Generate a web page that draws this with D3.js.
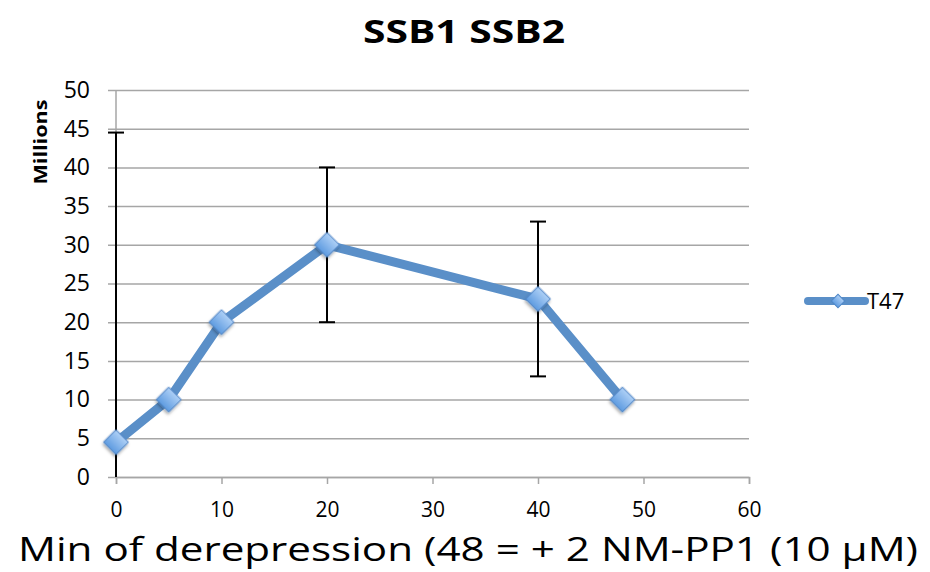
<!DOCTYPE html>
<html>
<head>
  <script src="https://d3js.org/d3.v7.min.js"></script>
  <style>
    body { margin: 0; background: #fff; }
    .gridlines line { stroke: #a6a6a6; stroke-width: 1.5; }
    .gridlines .domain { stroke: none; }
    .axis text { fill: #000; }
  </style>
</head>
<body>
  <svg id="chart" width="930" height="572"></svg>

  <script>
    // data
    const minutes = [0, 5, 10, 20, 40, 48];
    const values = [4.5, 10, 20, 30, 23, 10];
    const errors = [40, 0, 0, 10, 10, 0];
    const seriesName = 'T47';
    const xTicks = [0, 10, 20, 30, 40, 50, 60];
    const yTicks = [0, 5, 10, 15, 20, 25, 30, 35, 40, 45, 50];

    const svg = d3.select('svg#chart');
    const margins = { top: 90, left: 116, right: 930 - 749, bottom: 572 - 477 };
    const chartWidth = 930 - margins.left - margins.right;
    const chartHeight = 572 - margins.top - margins.bottom;

    const xScale = d3.scaleLinear().domain([0, 60]).range([0, chartWidth]);
    const yScale = d3.scaleLinear().domain([0, 50]).range([chartHeight, 0]);

    const defs = svg.append('defs');
    const grad = defs.append('linearGradient')
      .attr('id', 'diamondFill')
      .attr('x1', 0).attr('y1', 0).attr('x2', 0).attr('y2', 1);
    grad.append('stop').attr('offset', '0%').attr('stop-color', '#aed0f6');
    grad.append('stop').attr('offset', '100%').attr('stop-color', '#5e9be0');
    const shadow = defs.append('filter').attr('id', 'shadow')
      .attr('x', '-50%').attr('y', '-50%').attr('width', '200%').attr('height', '200%');
    shadow.append('feDropShadow')
      .attr('dx', 1).attr('dy', 2).attr('stdDeviation', 1.5)
      .attr('flood-color', '#000').attr('flood-opacity', 0.35);

    const chartArea = svg.append('g')
      .attr('transform', `translate(${margins.left},${margins.top})`);

    // horizontal gridlines (extend left as outward ticks)
    const leftGridlines = d3.axisLeft(yScale)
      .tickValues(yTicks)
      .tickSize(-chartWidth - 8)
      .tickFormat('');
    chartArea.append('g')
      .attr('class', 'gridlines')
      .attr('transform', `translate(-8,0)`)
      .call(leftGridlines);

    // y axis line
    chartArea.append('line')
      .attr('x1', 0).attr('x2', 0)
      .attr('y1', 0).attr('y2', chartHeight)
      .attr('stroke', '#a6a6a6').attr('stroke-width', 1.5);

    // x axis ticks
    const bottomAxis = d3.axisBottom(xScale)
      .tickValues(xTicks)
      .tickSize(7)
      .tickPadding(20);
    const xAxisG = chartArea.append('g')
      .attr('class', 'axis')
      .attr('transform', `translate(0,${chartHeight})`)
      .call(bottomAxis);
    xAxisG.select('.domain').attr('stroke', '#a6a6a6').attr('stroke-width', 1.5);
    xAxisG.selectAll('.tick line').attr('stroke', '#a6a6a6').attr('stroke-width', 1.5);
    xAxisG.selectAll('text')
      .attr('y', 40)
      .attr('dy', null)
      .style('font-family', '"Open Sans", sans-serif')
      .style('font-size', '21px');

    // y axis labels
    const leftAxis = d3.axisLeft(yScale)
      .tickValues(yTicks)
      .tickSize(0)
      .tickPadding(26);
    const yAxisG = chartArea.append('g')
      .attr('class', 'axis')
      .call(leftAxis);
    yAxisG.select('.domain').remove();
    yAxisG.selectAll('text')
      .style('font-family', '"Open Sans", sans-serif')
      .style('font-size', '23px');

    // error bars
    const errData = minutes.map((m, i) => ({ x: m, y: values[i], e: errors[i] }))
      .filter(d => d.e > 0);
    const clampY = v => Math.max(0, Math.min(50, v));
    const errG = chartArea.append('g');
    errG.selectAll('line.err').data(errData).join('line')
      .attr('class', 'err')
      .attr('x1', d => xScale(d.x)).attr('x2', d => xScale(d.x))
      .attr('y1', d => yScale(clampY(d.y + d.e)))
      .attr('y2', d => yScale(clampY(d.y - d.e)))
      .attr('stroke', '#000').attr('stroke-width', 2);
    errG.selectAll('line.capTop').data(errData).join('line')
      .attr('class', 'capTop')
      .attr('x1', d => xScale(d.x) - 8).attr('x2', d => xScale(d.x) + 8)
      .attr('y1', d => yScale(d.y + d.e)).attr('y2', d => yScale(d.y + d.e))
      .attr('stroke', '#000').attr('stroke-width', 2);
    errG.selectAll('line.capBot').data(errData.filter(d => d.y - d.e >= 0)).join('line')
      .attr('class', 'capBot')
      .attr('x1', d => xScale(d.x) - 8).attr('x2', d => xScale(d.x) + 8)
      .attr('y1', d => yScale(d.y - d.e)).attr('y2', d => yScale(d.y - d.e))
      .attr('stroke', '#000').attr('stroke-width', 2);

    // series line
    const line = d3.line()
      .x((d, i) => xScale(minutes[i]))
      .y(d => yScale(d));
    chartArea.append('path')
      .datum(values)
      .attr('fill', 'none')
      .attr('stroke', '#5a8fc8')
      .attr('stroke-width', 9)
      .attr('stroke-linejoin', 'round')
      .attr('d', line);

    // diamond markers
    const diamond = d3.symbol().type(d3.symbolSquare).size(310);
    chartArea.selectAll('path.marker').data(values).join('path')
      .attr('class', 'marker')
      .attr('d', diamond)
      .attr('transform', (d, i) => `translate(${xScale(minutes[i])},${yScale(d)}) rotate(45)`)
      .attr('fill', 'url(#diamondFill)')
      .attr('stroke', '#4f86c6')
      .attr('stroke-width', 1)
      .attr('filter', 'url(#shadow)');

    // legend
    const legend = svg.append('g').attr('transform', 'translate(808,301)');
    legend.append('line')
      .attr('x1', 0).attr('x2', 57).attr('y1', 0).attr('y2', 0)
      .attr('stroke', '#5a8fc8').attr('stroke-width', 8).attr('stroke-linecap', 'round');
    legend.append('path')
      .attr('d', d3.symbol().type(d3.symbolSquare).size(90))
      .attr('transform', 'translate(30,0) rotate(45)')
      .attr('fill', 'url(#diamondFill)')
      .attr('stroke', '#4f86c6');
    legend.append('text')
      .text(seriesName)
      .attr('x', 59).attr('y', 2)
      .attr('dominant-baseline', 'middle')
      .style('font-family', '"Open Sans", sans-serif')
      .style('font-size', '22px');

    // title
    svg.append('text')
      .text('SSB1 SSB2')
      .attr('x', 464).attr('y', 34)
      .attr('text-anchor', 'middle')
      .attr('dominant-baseline', 'middle')
      .attr('textLength', 202)
      .attr('lengthAdjust', 'spacingAndGlyphs')
      .style('font-family', '"Open Sans", sans-serif')
      .style('font-weight', 'bold')
      .style('font-size', '32px');

    // y axis title
    svg.append('g')
      .attr('transform', 'translate(42,142) rotate(-90)')
      .append('text')
      .text('Millions')
      .attr('text-anchor', 'middle')
      .attr('dominant-baseline', 'middle')
      .attr('textLength', 85)
      .attr('lengthAdjust', 'spacingAndGlyphs')
      .style('font-family', '"Open Sans", sans-serif')
      .style('font-weight', 'bold')
      .style('font-size', '18px');

    // x axis title
    svg.append('text')
      .text('Min of derepression (48 = + 2 NM-PP1 (10 µM)')
      .attr('x', 468).attr('y', 552)
      .attr('text-anchor', 'middle')
      .attr('dominant-baseline', 'middle')
      .attr('textLength', 900)
      .attr('lengthAdjust', 'spacingAndGlyphs')
      .style('font-family', '"Open Sans", sans-serif')
      .style('font-size', '32px');
  </script>
</body>
</html>
